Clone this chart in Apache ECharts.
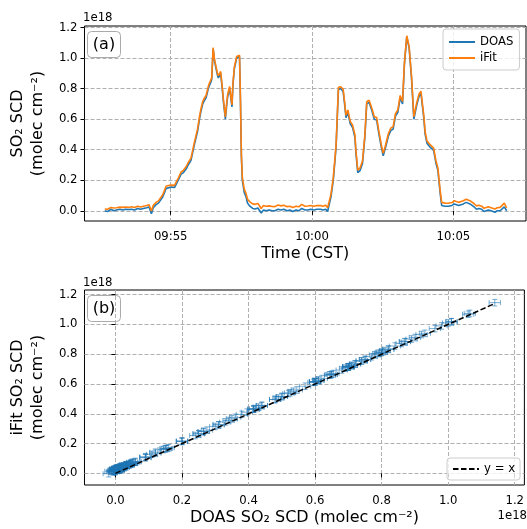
<!DOCTYPE html>
<html><head><meta charset="utf-8">
<script src="https://cdn.jsdelivr.net/npm/echarts@6/dist/echarts.min.js"></script>
<style>html,body{margin:0;padding:0;background:#fff}#c{width:527px;height:529px}</style>
</head><body><div id="c"></div>
<script>
// ---- data (SO2 SCD in units of 1e18 molec cm^-2) ----
const SCALE_TEXT = '1e18';
const times = [
'09:52:40','09:52:46','09:52:53','09:52:59','09:53:05','09:53:12','09:53:18','09:53:24','09:53:31','09:53:37',
'09:53:43','09:53:50','09:53:56','09:54:02','09:54:09','09:54:14','09:54:19','09:54:23','09:54:29','09:54:34',
'09:54:38','09:54:43','09:54:47','09:54:50','09:54:55','09:55:01','09:55:08','09:55:11','09:55:16','09:55:22',
'09:55:27','09:55:33','09:55:37','09:55:43','09:55:47','09:55:50','09:55:54','09:55:57','09:56:01','09:56:04',
'09:56:08','09:56:11','09:56:15','09:56:19','09:56:22','09:56:25','09:56:27','09:56:30','09:56:33','09:56:37',
'09:56:39','09:56:41','09:56:46','09:56:49','09:56:52','09:56:56','09:56:59','09:57:01','09:57:05','09:57:10',
'09:57:12','09:57:15','09:57:20','09:57:23','09:57:26','09:57:28','09:57:30','09:57:32','09:57:36','09:57:40',
'09:57:43','09:57:48','09:57:54','09:57:59','09:58:05','09:58:08','09:58:12','09:58:17','09:58:22','09:58:29',
'09:58:35','09:58:41','09:58:48','09:58:54','09:59:00','09:59:07','09:59:13','09:59:19','09:59:26','09:59:32',
'09:59:38','09:59:45','09:59:51','09:59:57','10:00:04','10:00:10','10:00:14','10:00:18','10:00:23','10:00:29',
'10:00:33','10:00:37','10:00:40','10:00:45','10:00:51','10:00:54','10:00:56','10:01:01','10:01:06','10:01:09',
'10:01:12','10:01:16','10:01:21','10:01:26','10:01:31','10:01:33','10:01:37','10:01:42','10:01:47','10:01:52',
'10:01:56','10:02:01','10:02:07','10:02:12','10:02:17','10:02:22','10:02:27','10:02:31','10:02:36','10:02:42',
'10:02:47','10:02:52','10:02:57','10:03:02','10:03:07','10:03:12','10:03:16','10:03:21','10:03:26','10:03:31',
'10:03:36','10:03:42','10:03:47','10:03:51','10:03:57','10:04:00','10:04:04','10:04:11','10:04:18','10:04:23',
'10:04:27','10:04:32','10:04:35','10:04:39','10:04:42','10:04:49','10:04:57','10:05:02','10:05:06','10:05:11',
'10:05:16','10:05:21','10:05:27','10:05:30','10:05:35','10:05:39','10:05:44','10:05:49','10:05:54','10:06:00',
'10:06:05','10:06:09','10:06:14','10:06:20','10:06:24','10:06:28','10:06:33','10:06:39','10:06:43','10:06:48',
'10:06:53'];
const doas = [
0.000,-0.005,0.010,0.000,0.005,0.010,0.005,0.010,0.008,0.010,
0.005,0.015,0.010,0.015,0.020,0.025,-0.020,0.020,0.040,0.050,
0.060,0.090,0.120,0.145,0.150,0.155,0.152,0.160,0.200,0.240,
0.250,0.275,0.300,0.330,0.340,0.430,0.440,0.520,0.600,0.650,
0.700,0.720,0.740,0.790,0.820,0.840,0.860,1.060,0.980,0.920,
0.890,0.870,0.900,0.810,0.710,0.600,0.700,0.750,0.800,0.680,
0.820,0.930,1.000,1.010,1.010,0.720,0.350,0.200,0.120,0.090,
0.050,0.030,0.015,0.012,0.018,0.005,-0.015,0.005,0.000,0.005,
0.000,0.000,0.010,0.005,0.010,0.000,0.005,-0.005,0.005,0.000,
0.015,0.005,0.005,0.010,0.005,0.010,0.000,0.010,0.005,0.010,
-0.005,0.050,0.090,0.200,0.420,0.650,0.795,0.800,0.780,0.700,
0.610,0.645,0.570,0.545,0.480,0.380,0.250,0.265,0.310,0.480,
0.700,0.710,0.655,0.600,0.595,0.500,0.415,0.360,0.415,0.490,
0.525,0.535,0.620,0.645,0.740,0.700,0.960,1.140,1.065,0.870,
0.600,0.690,0.750,0.770,0.610,0.500,0.440,0.415,0.395,0.310,
0.265,0.110,0.035,0.025,0.030,0.030,0.035,0.045,0.035,0.035,
0.040,0.045,0.055,0.060,0.045,0.035,0.025,0.010,0.015,0.010,
-0.005,0.005,0.005,0.000,-0.005,-0.010,0.000,0.000,0.010,0.025,
0.000];
const ifit = [
0.012,0.010,0.022,0.018,0.020,0.024,0.022,0.025,0.022,0.026,
0.021,0.030,0.024,0.030,0.034,0.040,-0.002,0.036,0.055,0.065,
0.075,0.105,0.135,0.160,0.165,0.168,0.166,0.172,0.214,0.254,
0.265,0.290,0.315,0.345,0.355,0.445,0.456,0.536,0.615,0.665,
0.716,0.735,0.755,0.805,0.835,0.855,0.872,1.068,0.990,0.932,
0.902,0.884,0.912,0.824,0.724,0.614,0.714,0.764,0.814,0.694,
0.832,0.940,1.010,1.018,1.018,0.734,0.366,0.218,0.142,0.112,
0.075,0.058,0.045,0.042,0.048,0.035,0.015,0.034,0.030,0.032,
0.028,0.027,0.038,0.032,0.036,0.027,0.030,0.022,0.030,0.026,
0.042,0.030,0.031,0.035,0.030,0.034,0.025,0.034,0.029,0.036,
0.020,0.070,0.107,0.215,0.435,0.664,0.808,0.812,0.795,0.715,
0.625,0.660,0.585,0.560,0.496,0.396,0.266,0.281,0.326,0.496,
0.714,0.724,0.670,0.616,0.611,0.516,0.431,0.376,0.431,0.506,
0.541,0.551,0.636,0.661,0.755,0.716,0.972,1.146,1.074,0.884,
0.616,0.706,0.765,0.783,0.626,0.516,0.456,0.431,0.411,0.326,
0.281,0.128,0.055,0.046,0.050,0.049,0.054,0.066,0.056,0.055,
0.060,0.066,0.075,0.080,0.066,0.055,0.046,0.032,0.036,0.030,
0.016,0.025,0.026,0.020,0.015,0.012,0.020,0.022,0.032,0.050,
0.018];
const doasErr = 0.017;   // horizontal error bar half-width
const ifitErr = 0.022;   // vertical error bar half-height
const oneToOne = [0, 1.14];
const timeTickLabels = ['09:55', '10:00', '10:05'];
const scdTicks = [0.0, 0.2, 0.4, 0.6, 0.8, 1.0, 1.2];

// ---- helpers ----
const toSec = s => { const p = s.split(':').map(Number); return p[0]*3600 + p[1]*60 + (p[2]||0); };
const pad2 = n => String(n).padStart(2, '0');
const secToHM = v => pad2(Math.floor(v/3600)) + ':' + pad2(Math.round((v%3600)/60));
const tSec = times.map(toSec);
const timeTickVals = timeTickLabels.map(toSec);

const FONT = 'DejaVu Sans';
const SMALL = 11.7, BIG = 16;
const gridLine = { show: true, lineStyle: { color: '#b0b0b0', width: 1, type: [4, 2] } };
const tick = { show: true, length: 4, lineStyle: { color: '#000', width: 1 } };
const lblY = { color: '#000', fontFamily: FONT, fontSize: SMALL, margin: 7 };
const lblX = { color: '#000', fontFamily: FONT, fontSize: SMALL, margin: 10 };
const nameStyle = { color: '#000', fontFamily: FONT, fontSize: BIG, lineHeight: 20 };
const legendCommon = {
  orient: 'vertical', itemWidth: 26, itemHeight: 14,
  backgroundColor: 'rgba(255,255,255,0.8)', borderColor: '#cccccc', borderWidth: 1, borderRadius: 3,
  itemStyle: { opacity: 0 },
  textStyle: { color: '#000', fontFamily: FONT, fontSize: SMALL }
};
const smallFont = SMALL + 'px "DejaVu Sans"', bigFont = BIG + 'px "DejaVu Sans"';

const chart = echarts.init(document.getElementById('c'), null, { renderer: 'canvas' });
chart.setOption({
  animation: false,
  backgroundColor: '#fff',
  textStyle: { fontFamily: FONT },
  grid: [
    { left: 83, top: 26, width: 443, height: 195, show: true, borderColor: '#000', borderWidth: 1, backgroundColor: 'transparent' },
    { left: 83, top: 290, width: 443, height: 196, show: true, borderColor: '#000', borderWidth: 1, backgroundColor: 'transparent' }
  ],
  xAxis: [
    { type: 'value', gridIndex: 0, min: toSec('09:51:57'), max: toSec('10:07:34'),
      axisLine: { show: false }, axisTick: Object.assign({ customValues: timeTickVals }, tick),
      axisLabel: Object.assign({ customValues: timeTickVals, formatter: v => secToHM(v) }, lblX),
      splitLine: gridLine,
      name: 'Time (CST)', nameLocation: 'middle', nameGap: 21, nameTextStyle: nameStyle },
    { type: 'value', gridIndex: 1, min: -0.093, max: 1.229,
      axisLine: { show: false }, axisTick: Object.assign({ customValues: scdTicks }, tick),
      axisLabel: Object.assign({ customValues: scdTicks, formatter: v => v.toFixed(1) }, lblX),
      splitLine: gridLine,
      name: 'DOAS SO\u2082 SCD (molec cm\u207B\u00B2)', nameLocation: 'middle', nameGap: 23, nameTextStyle: nameStyle }
  ],
  yAxis: [
    { type: 'value', gridIndex: 0, min: -0.067, max: 1.21,
      axisLine: { show: false }, axisTick: Object.assign({ customValues: scdTicks }, tick),
      axisLabel: Object.assign({ customValues: scdTicks, formatter: v => v.toFixed(1) }, lblY),
      splitLine: gridLine,
      name: 'SO\u2082 SCD\n(molec cm\u207B\u00B2)', nameLocation: 'middle', nameRotate: 90, nameGap: 26, nameTextStyle: nameStyle },
    { type: 'value', gridIndex: 1, min: -0.078, max: 1.231,
      axisLine: { show: false }, axisTick: Object.assign({ customValues: scdTicks }, tick),
      axisLabel: Object.assign({ customValues: scdTicks, formatter: v => v.toFixed(1) }, lblY),
      splitLine: gridLine,
      name: 'iFit SO\u2082 SCD\n(molec cm\u207B\u00B2)', nameLocation: 'middle', nameRotate: 90, nameGap: 26, nameTextStyle: nameStyle }
  ],
  legend: [
    Object.assign({ left: 443, top: 29, padding: [7, 6, 6, 5], itemGap: 4, data: ['DOAS', 'iFit'] }, legendCommon),
    Object.assign({ left: 447, top: 458, padding: [5, 5, 5, 5], data: ['y = x'] }, legendCommon)
  ],
  series: [
    { name: 'DOAS', type: 'line', xAxisIndex: 0, yAxisIndex: 0, showSymbol: false, symbol: 'none',
      data: tSec.map((t, i) => [t, doas[i]]), lineStyle: { color: '#1f77b4', width: 1.6 }, itemStyle: { color: '#1f77b4' } },
    { name: 'iFit', type: 'line', xAxisIndex: 0, yAxisIndex: 0, showSymbol: false, symbol: 'none',
      data: tSec.map((t, i) => [t, ifit[i]]), lineStyle: { color: '#ff7f0e', width: 1.6 }, itemStyle: { color: '#ff7f0e' } },
    { name: 'scatter', type: 'custom', xAxisIndex: 1, yAxisIndex: 1,
      data: doas.map((d, i) => [d, ifit[i]]),
      renderItem: (params, api) => {
        const x = api.value(0), y = api.value(1);
        const l = api.coord([x - doasErr, y]), r = api.coord([x + doasErr, y]);
        const b = api.coord([x, y - ifitErr]), t = api.coord([x, y + ifitErr]);
        const c = 2.5;
        const st = { stroke: 'rgba(31,119,180,0.6)', lineWidth: 1, fill: null };
        const ln = (x1, y1, x2, y2) => ({ type: 'line', shape: { x1, y1, x2, y2 }, style: st });
        return { type: 'group', children: [
          ln(l[0], l[1], r[0], r[1]), ln(b[0], b[1], t[0], t[1]),
          ln(l[0], l[1] - c, l[0], l[1] + c), ln(r[0], r[1] - c, r[0], r[1] + c),
          ln(b[0] - c, b[1], b[0] + c, b[1]), ln(t[0] - c, t[1], t[0] + c, t[1])
        ] };
      } },
    { name: 'y = x', type: 'line', xAxisIndex: 1, yAxisIndex: 1, showSymbol: false, symbol: 'none',
      data: oneToOne.map(v => [v, v]), lineStyle: { color: '#000', width: 1.5, type: [5.5, 2.5] }, itemStyle: { color: '#000' }, z: 5 }
  ],
  graphic: [
    { type: 'text', left: 83, top: 12, style: { text: SCALE_TEXT, font: smallFont, fill: '#000' } },
    { type: 'text', left: 83, top: 277, style: { text: SCALE_TEXT, font: smallFont, fill: '#000' } },
    { type: 'text', right: 0, top: 510, style: { text: SCALE_TEXT, font: smallFont, fill: '#000' } },
    { type: 'group', left: 87, top: 31, children: [
      { type: 'rect', shape: { x: 0, y: 0, width: 33, height: 26, r: 4 }, style: { fill: 'rgba(255,255,255,0.8)', stroke: '#aaaaaa', lineWidth: 1 } },
      { type: 'text', x: 16.5, y: 13, style: { text: '(a)', font: bigFont, fill: '#000', align: 'center', verticalAlign: 'middle' } }
    ] },
    { type: 'group', left: 87, top: 295, children: [
      { type: 'rect', shape: { x: 0, y: 0, width: 33, height: 26, r: 4 }, style: { fill: 'rgba(255,255,255,0.8)', stroke: '#aaaaaa', lineWidth: 1 } },
      { type: 'text', x: 16.5, y: 13, style: { text: '(b)', font: bigFont, fill: '#000', align: 'center', verticalAlign: 'middle' } }
    ] }
  ]
});
</script></body></html>
